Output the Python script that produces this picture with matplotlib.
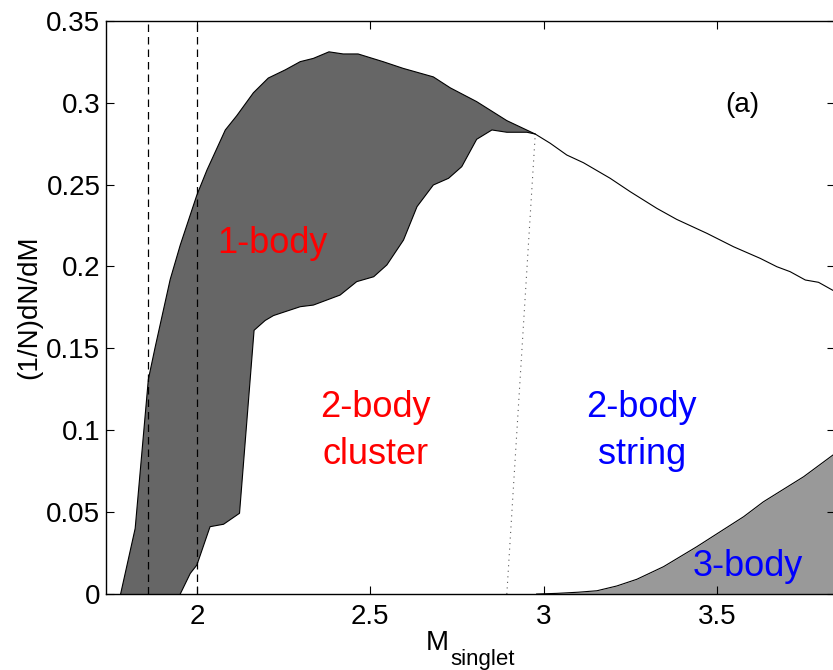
import matplotlib
matplotlib.use("Agg")
import matplotlib.pyplot as plt
from matplotlib.ticker import FuncFormatter
import numpy as np

plt.rcParams['font.family'] = ['Liberation Sans', 'DejaVu Sans']

#---------------------------------------#
# DATA
#---------------------------------------#

# total distribution (upper outline)
total_x = [1.780, 1.822, 1.860, 1.880, 1.923, 1.952, 2.000, 2.029, 2.082, 2.115,
           2.163, 2.206, 2.255, 2.298, 2.336, 2.381, 2.422, 2.465, 2.537, 2.595,
           2.682, 2.731, 2.807, 2.894, 2.976, 3.019, 3.067, 3.115, 3.192, 3.250,
           3.327, 3.384, 3.471, 3.548, 3.625, 3.673, 3.711, 3.755, 3.793, 3.842]
total_y = [0.000, 0.040, 0.131, 0.151, 0.192, 0.213, 0.2436, 0.2588, 0.2833, 0.292,
           0.306, 0.315, 0.320, 0.325, 0.327, 0.331, 0.3297, 0.3297, 0.325, 0.3209,
           0.3157, 0.309, 0.3006, 0.289, 0.2808, 0.2752, 0.268, 0.2633, 0.2538, 0.2456,
           0.2354, 0.2287, 0.2202, 0.212, 0.2049, 0.1998, 0.1968, 0.1917, 0.1903, 0.1845]

# lower edge of the 1-body band
lower_x = [1.952, 1.981, 2.000, 2.038, 2.077, 2.123, 2.165, 2.197, 2.221, 2.298,
           2.336, 2.413, 2.461, 2.510, 2.548, 2.596, 2.635, 2.682, 2.726, 2.764,
           2.807, 2.851, 2.894, 2.952, 2.976]
lower_y = [0.000, 0.0126, 0.0177, 0.0411, 0.0426, 0.0493, 0.161, 0.167, 0.170, 0.1754,
           0.1764, 0.1825, 0.1907, 0.1937, 0.2009, 0.2161, 0.2365, 0.2497, 0.2538, 0.2609,
           0.2776, 0.2833, 0.2819, 0.2819, 0.2808]

# 3-body contribution
three_x = [2.980, 3.038, 3.100, 3.154, 3.211, 3.269, 3.346, 3.442, 3.577, 3.634, 3.750, 3.842]
three_y = [0.000, 0.0004, 0.0011, 0.002, 0.0049, 0.009, 0.0167, 0.0289, 0.0472, 0.0563, 0.0716, 0.0860]

# cluster / string split and mass cuts
split_x = [2.894, 2.976]
split_y = [0.000, 0.2808]
cut_x = [1.86, 2.0]

x_ticks = [2, 2.5, 3, 3.5]
y_ticks = [0, 0.05, 0.1, 0.15, 0.2, 0.25, 0.3, 0.35]

#---------------------------------------#
# PLOT
#---------------------------------------#

fig = plt.figure(figsize=(8.33, 6.70), dpi=100)
ax = fig.add_axes([0.1273, 0.1134, 0.8757, 0.8557])

# 1-body band: total curve up to the merge point, back along the lower edge
tx = np.array(total_x)
ty = np.array(total_y)
keep = tx <= lower_x[-1]
poly_x = np.concatenate([tx[keep], np.array(lower_x)[::-1]])
poly_y = np.concatenate([ty[keep], np.array(lower_y)[::-1]])
ax.fill(poly_x, poly_y, color='#666666', lw=0)
ax.plot(lower_x, lower_y, color='black', lw=0.8)

# 3-body area
ax.fill_between(three_x, 0, three_y, color='#999999', lw=0)
ax.plot(three_x, three_y, color='black', lw=0.8)

# total outline
ax.plot(total_x, total_y, color='black', lw=0.8)

# split between cluster and string
ax.plot(split_x, split_y, color='0.35', ls=(0, (1, 4)), lw=0.8)

# mass cuts
for xc in cut_x:
    ax.axvline(xc, color='black', ls=(0, (6, 4)), lw=0.9)

ax.set_xlim(1.738, 3.842)
ax.set_ylim(0, 0.35)
ax.set_xticks(x_ticks)
ax.set_yticks(y_ticks)
ax.yaxis.set_major_formatter(FuncFormatter(lambda v, p: '%g' % v))
ax.xaxis.set_major_formatter(FuncFormatter(lambda v, p: '%g' % v))
ax.tick_params(direction='in', length=6, width=0.8, top=True, right=True, labelsize=20)
ax.tick_params(axis='x', pad=7)
ax.tick_params(axis='y', pad=4)
for s in ax.spines.values():
    s.set_linewidth(1.0)

# labels
ax.set_ylabel('(1/N)dN/dM', fontsize=20)
ax.yaxis.set_label_coords(-0.088, 0.5)
ax.set_xlabel('M', fontsize=20)
ax.xaxis.set_label_coords(0.454, -0.062)
ax.annotate('singlet', xy=(1, 0), xycoords=ax.xaxis.label, xytext=(1, -6.5),
            textcoords='offset points', ha='left', va='baseline', fontsize=16)

# region annotations
ax.text(2.217, 0.2137, '1-body', color='red', fontsize=26, ha='center', va='center')
ax.text(2.515, 0.0995, '2-body\ncluster', color='red', fontsize=26, ha='center',
        va='center', linespacing=1.45)
ax.text(3.283, 0.0995, '2-body\nstring', color='blue', fontsize=26, ha='center',
        va='center', linespacing=1.45)
ax.text(3.588, 0.0165, '3-body', color='blue', fontsize=26, ha='center', va='center')
ax.text(3.572, 0.2985, '(a)', color='black', fontsize=20, ha='center', va='center')

fig.savefig('out.png', dpi=100)
